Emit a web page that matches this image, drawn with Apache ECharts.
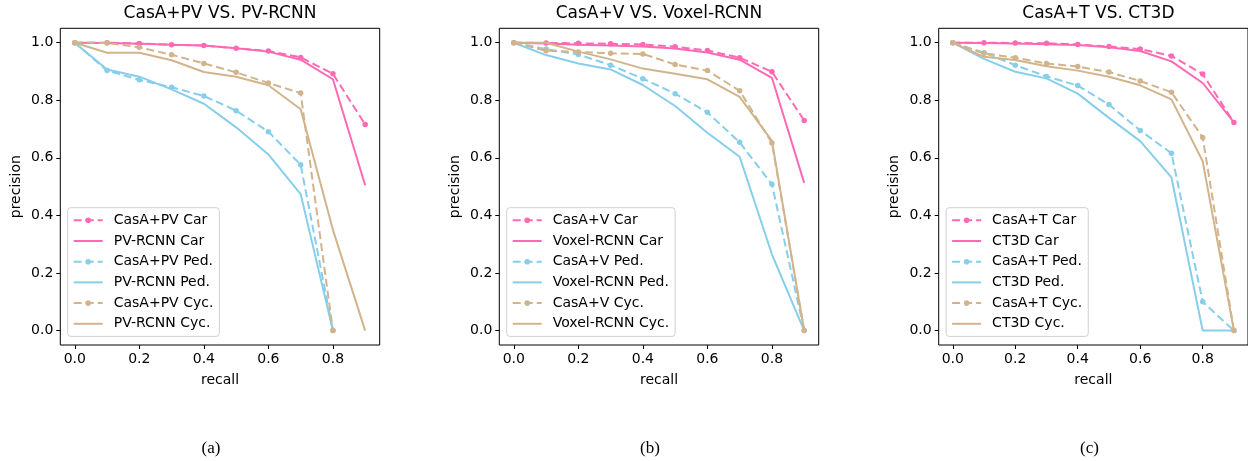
<!DOCTYPE html>
<html>
<head>
<meta charset="utf-8">
<script src="https://cdn.jsdelivr.net/npm/echarts@6/dist/echarts.min.js"></script>
<style>
  html, body { margin: 0; padding: 0; background: #fff; }
  #chart { width: 1248px; height: 461px; }
</style>
</head>
<body>
<div id="chart"></div>
<script>
// recall points (x)
const recall = [0, 0.1, 0.2, 0.3, 0.4, 0.5, 0.6, 0.7, 0.8, 0.9];
const xTicks = [0, 0.2, 0.4, 0.6, 0.8];
const yTicks = [0, 0.2, 0.4, 0.6, 0.8, 1.0];

const panelTitles = ['CasA+PV VS. PV-RCNN', 'CasA+V VS. Voxel-RCNN', 'CasA+T VS. CT3D'];
const captions = ['(a)', '(b)', '(c)'];
const casaNames = ['CasA+PV', 'CasA+V', 'CasA+T'];
const baseNames = ['PV-RCNN', 'Voxel-RCNN', 'CT3D'];
const classNames = ['Car', 'Ped.', 'Cyc.'];

// (a) CasA+PV vs PV-RCNN
const pvCasaCar = [1.0, 1.0, 0.997, 0.993, 0.99, 0.981, 0.971, 0.949, 0.892, 0.716];
const pvBaseCar = [1.0, 0.999, 0.996, 0.993, 0.99, 0.981, 0.969, 0.941, 0.873, 0.505];
const pvCasaPed = [1.0, 0.903, 0.871, 0.845, 0.815, 0.764, 0.691, 0.576, 0.0];
const pvBasePed = [1.0, 0.907, 0.882, 0.838, 0.788, 0.706, 0.612, 0.474, 0.0];
const pvCasaCyc = [1.0, 0.999, 0.984, 0.958, 0.928, 0.897, 0.86, 0.825, 0.0];
const pvBaseCyc = [1.0, 0.965, 0.965, 0.939, 0.898, 0.882, 0.852, 0.769, 0.35, 0.0];

// (b) CasA+V vs Voxel-RCNN
const vxCasaCar = [1.0, 0.999, 0.998, 0.996, 0.994, 0.986, 0.973, 0.948, 0.899, 0.73];
const vxBaseCar = [1.0, 0.997, 0.993, 0.99, 0.987, 0.98, 0.966, 0.941, 0.878, 0.513];
const vxCasaPed = [1.0, 0.978, 0.959, 0.922, 0.875, 0.823, 0.758, 0.654, 0.508, 0.0];
const vxBasePed = [1.0, 0.957, 0.928, 0.907, 0.853, 0.78, 0.687, 0.604, 0.265, 0.0];
const vxCasaCyc = [1.0, 0.972, 0.968, 0.963, 0.961, 0.924, 0.903, 0.833, 0.652, 0.0];
const vxBaseCyc = [1.0, 1.0, 0.969, 0.942, 0.91, 0.892, 0.873, 0.812, 0.659, 0.0];

// (c) CasA+T vs CT3D
const ctCasaCar = [1.0, 1.0, 0.999, 0.998, 0.994, 0.987, 0.978, 0.954, 0.891, 0.723];
const ctBaseCar = [1.0, 0.999, 0.997, 0.995, 0.992, 0.984, 0.971, 0.935, 0.86, 0.723];
const ctCasaPed = [1.0, 0.965, 0.922, 0.883, 0.851, 0.785, 0.695, 0.616, 0.1, 0.0];
const ctBasePed = [1.0, 0.944, 0.899, 0.876, 0.823, 0.739, 0.658, 0.532, 0.0, 0.0];
const ctCasaCyc = [1.0, 0.963, 0.948, 0.928, 0.917, 0.898, 0.867, 0.828, 0.671, 0.0];
const ctBaseCyc = [1.0, 0.951, 0.94, 0.918, 0.903, 0.882, 0.852, 0.803, 0.588, 0.0];

const panels = [
  [pvCasaCar, pvBaseCar, pvCasaPed, pvBasePed, pvCasaCyc, pvBaseCyc],
  [vxCasaCar, vxBaseCar, vxCasaPed, vxBasePed, vxCasaCyc, vxBaseCyc],
  [ctCasaCar, ctBaseCar, ctCasaPed, ctBasePed, ctCasaCyc, ctBaseCyc]
];

const classColors = ['#FF69B4', '#87CEEB', '#D2B48C'];
const font = 'DejaVu Sans';
const gridLefts = [60.3, 499.3, 938.7];
const gridTop = 28.3, gridW = 319.4, gridH = 316.7;

const grids = [], xAxes = [], yAxes = [], series = [], legends = [], graphics = [];

panels.forEach((lines, p) => {
  grids.push({
    left: gridLefts[p], top: gridTop, width: gridW, height: gridH,
    show: true, borderColor: '#000', borderWidth: 1, backgroundColor: '#fff'
  });
  xAxes.push({
    type: 'value', gridIndex: p, min: -0.045, max: 0.945,
    axisLine: { show: false, onZero: false },
    axisTick: { show: true, length: 4, inside: false, customValues: xTicks, lineStyle: { color: '#000' } },
    axisLabel: { customValues: xTicks, formatter: v => v.toFixed(1), color: '#000', fontFamily: font, fontSize: 14, margin: 7 },
    splitLine: { show: false },
    name: 'recall', nameLocation: 'middle', nameGap: 28,
    nameTextStyle: { color: '#000', fontFamily: font, fontSize: 14 }
  });
  yAxes.push({
    type: 'value', gridIndex: p, min: -0.05, max: 1.05,
    axisLine: { show: false, onZero: false },
    axisTick: { show: true, length: 4, inside: false, customValues: yTicks, lineStyle: { color: '#000' } },
    axisLabel: { customValues: yTicks, formatter: v => v.toFixed(1), color: '#000', fontFamily: font, fontSize: 14, margin: 7 },
    splitLine: { show: false },
    name: 'precision', nameLocation: 'middle', nameGap: 37,
    nameTextStyle: { color: '#000', fontFamily: font, fontSize: 14 }
  });

  const legendItems = [];
  lines.forEach((vals, i) => {
    const cls = Math.floor(i / 2);
    const isCasa = i % 2 === 0;
    const name = (isCasa ? casaNames[p] : baseNames[p]) + ' ' + classNames[cls];
    // solid baselines have no marker, so hide the dot in their legend icon
    legendItems.push(isCasa ? { name: name } : { name: name, itemStyle: { opacity: 0 } });
    series.push({
      name: name, type: 'line', xAxisIndex: p, yAxisIndex: p,
      data: vals.map((v, k) => [recall[k], v]),
      symbol: isCasa ? 'circle' : 'none',
      symbolSize: 5.5,
      showSymbol: isCasa,
      itemStyle: { color: classColors[cls] },
      lineStyle: { color: classColors[cls], width: 2, type: isCasa ? [8, 4] : 'solid' },
      z: 2 + i,
      animation: false
    });
  });

  legends.push({
    data: legendItems, orient: 'vertical',
    left: gridLefts[p] + 7.4, top: 207.7,
    itemWidth: 29, itemHeight: 7, itemGap: 4.7,
    padding: [4.6, 6, 4.6, 5],
    backgroundColor: 'rgba(255,255,255,0.8)',
    borderColor: '#d0d0d0', borderWidth: 1, borderRadius: 3,
    textStyle: { color: '#000', fontFamily: font, fontSize: 14, lineHeight: 16, padding: [0, 0, 0, 6] },
    selectedMode: false
  });

  const cx = gridLefts[p] + gridW / 2;
  graphics.push({
    type: 'text', x: cx, y: 14,
    style: { text: panelTitles[p], fill: '#000', font: '17px "DejaVu Sans"', align: 'center', verticalAlign: 'middle' }
  });
  graphics.push({
    type: 'text', x: cx - 9, y: 449,
    style: { text: captions[p], fill: '#000', font: '17px "Liberation Serif"', align: 'center', verticalAlign: 'middle' }
  });
});

const chart = echarts.init(document.getElementById('chart'), null, { renderer: 'canvas' });
chart.setOption({
  animation: false,
  grid: grids,
  xAxis: xAxes,
  yAxis: yAxes,
  legend: legends,
  series: series,
  graphic: graphics
});
</script>
</body>
</html>
